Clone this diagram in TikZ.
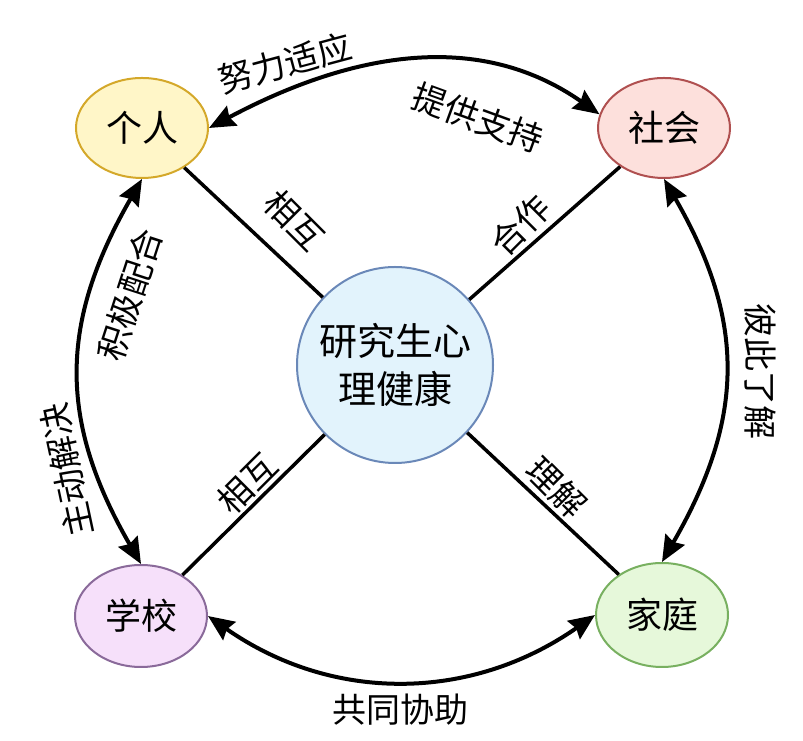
\documentclass[tikz,border=0pt]{standalone}
\usepackage{fontspec}
\setmainfont{Noto Sans CJK SC}
\usetikzlibrary{arrows.meta,shapes.geometric}
\definecolor{gfill}{HTML}{FFF6C8}\definecolor{gdraw}{HTML}{D4A82A}
\definecolor{sfill}{HTML}{FDE0DC}\definecolor{sdraw}{HTML}{B05050}
\definecolor{xfill}{HTML}{F6E0FA}\definecolor{xdraw}{HTML}{8A6A9A}
\definecolor{jfill}{HTML}{E6F8DA}\definecolor{jdraw}{HTML}{78B060}
\definecolor{cfill}{HTML}{E2F3FC}\definecolor{cdraw}{HTML}{6A88B8}
\tikzset{
  blob/.style={ellipse, line width=2pt, minimum width=132pt, minimum height=100pt, inner sep=0pt,
    font=\fontsize{36}{40}\selectfont},
  hub/.style={circle, line width=2pt, minimum size=196pt, inner sep=0pt, align=center,
    font=\fontsize{38}{48}\selectfont},
  spoke/.style={line width=3.5pt},
  arc/.style={line width=4pt, {Stealth[length=26pt,width=22pt,inset=3pt]}-{Stealth[length=26pt,width=22pt,inset=3pt]}},
  lbl/.style={font=\fontsize{34}{38}\selectfont, inner sep=0pt}
}
\begin{document}
\begin{tikzpicture}[x=1pt,y=1pt]
\useasboundingbox (0,0) rectangle (803,741);
\node[blob, fill=gfill, draw=gdraw] (geren) at (142,613) {个人};
\node[blob, fill=sfill, draw=sdraw] (shehui) at (664,613) {社会};
\node[blob, fill=xfill, draw=xdraw, minimum height=102pt] (xuexiao) at (141,125) {学校};
\node[blob, fill=jfill, draw=jdraw, minimum height=104pt] (jiating) at (662,126) {家庭};
\node[hub, fill=cfill, draw=cdraw] (hub) at (395,376) {研究生心\\理健康};

\draw[spoke] (hub) -- (geren);
\draw[spoke] (hub) -- (shehui);
\draw[spoke] (hub) -- (xuexiao);
\draw[spoke] (hub) -- (jiating);

\draw[arc] (geren.east) to[out=28,in=145] (shehui.168);
\draw[arc] (geren.south) to[out=240,in=120,looseness=1.1] (xuexiao.north);
\draw[arc] (shehui.south) to[out=-60,in=60,looseness=1.1] (jiating.north);
\draw[arc] (xuexiao.east) to[out=-35,in=-145] (jiating.west);

\node[lbl, rotate=15] (l1) at (285,678) {努力适应};
\node[lbl, rotate=-20] (l2) at (478,623) {提供支持};
\node[lbl, rotate=72] (l3) at (130,446) {积极配合};
\node[lbl, rotate=102] (l4) at (67,271) {主动解决};
\node[lbl, rotate=-90] (l5) at (760,369) {彼此了解};
\node[lbl] (l6) at (400,31) {共同协助};
\node[lbl, rotate=-45] (l7) at (295,521) {相互};
\node[lbl, rotate=45] (l8) at (520,516) {合作};
\node[lbl, rotate=45] (l9) at (247,258) {相互};
\node[lbl, rotate=-45] (l10) at (557,254) {理解};
\end{tikzpicture}
\end{document}
